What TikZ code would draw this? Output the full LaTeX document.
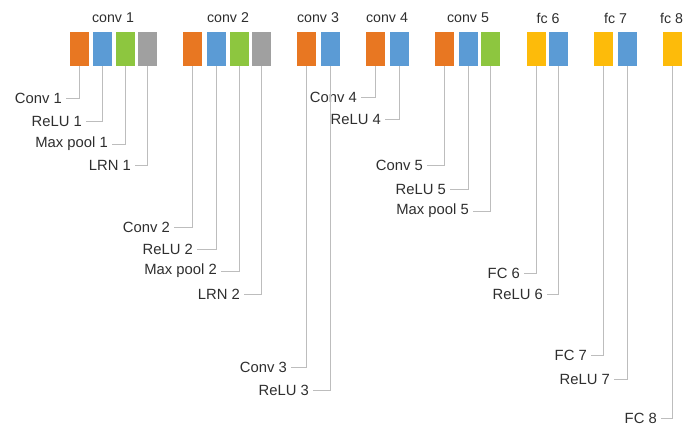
\documentclass[tikz,border=0pt]{standalone}
\usepackage{fontspec}
\setmainfont{Liberation Sans}
\definecolor{lorange}{HTML}{E87722}
\definecolor{lblue}{HTML}{5B9BD5}
\definecolor{lgreen}{HTML}{8DC63F}
\definecolor{lgray}{HTML}{A0A0A0}
\definecolor{lyellow}{HTML}{FDBB0A}
\definecolor{wire}{HTML}{BDBDBD}
\definecolor{ink}{HTML}{2E2E2E}
\begin{document}
\begin{tikzpicture}[x=1pt,y=-1pt,
  layer/.style={minimum width=19pt,minimum height=34pt,inner sep=0pt,draw=none},
  title/.style={font=\fontsize{14.2}{16}\selectfont,text=ink,inner sep=0pt},
  tag/.style={anchor=east,font=\fontsize{14.8}{17}\selectfont,text=ink,inner xsep=4pt,inner ysep=0pt},
  wire/.style={draw=wire,line width=0.9pt}]
\useasboundingbox (0,0) rectangle (687,430);

% layer blocks
\foreach \nm/\x/\c in {c1a/79.5/lorange,c1b/102.5/lblue,c1c/125.5/lgreen,c1d/147.5/lgray,
  c2a/192.5/lorange,c2b/216/lblue,c2c/239.5/lgreen,c2d/261.5/lgray,
  c3a/306.5/lorange,c3b/330/lblue,
  c4a/375/lorange,c4b/399/lblue,
  c5a/444.5/lorange,c5b/468/lblue,c5c/490.5/lgreen,
  f6a/536/lyellow,f6b/558.5/lblue,
  f7a/603.5/lyellow,f7b/627/lblue,
  f8a/672.5/lyellow}
  \node[layer,fill=\c] (\nm) at (\x,49) {};

% group titles
\node[title] (t1) at (113,18) {conv 1};
\node[title] (t2) at (228,18) {conv 2};
\node[title] (t3) at (318,18) {conv 3};
\node[title] (t4) at (387,18) {conv 4};
\node[title] (t5) at (468,18) {conv 5};
\node[title] (t6) at (548,18) {fc 6};
\node[title] (t7) at (615.5,18) {fc 7};
\node[title] (t8) at (671.5,18) {fc 8};

% operation labels
\node[tag] (l1a) at (62+4,98)  {Conv 1};
\node[tag] (l1b) at (82+4,121) {ReLU 1};
\node[tag] (l1c) at (108+4,144) {Max pool 1};
\node[tag] (l1d) at (131+4,165) {LRN 1};
\node[tag] (l2a) at (170+4,227) {Conv 2};
\node[tag] (l2b) at (193+4,249) {ReLU 2};
\node[tag] (l2c) at (217+4,271) {Max pool 2};
\node[tag] (l2d) at (240+4,294) {LRN 2};
\node[tag] (l3a) at (287+4,367) {Conv 3};
\node[tag] (l3b) at (309+4,390) {ReLU 3};
\node[tag] (l4a) at (357+4,97)  {Conv 4};
\node[tag] (l4b) at (381+4,119) {ReLU 4};
\node[tag] (l5a) at (423+4,165) {Conv 5};
\node[tag] (l5b) at (446+4,189) {ReLU 5};
\node[tag] (l5c) at (469+4,211) {Max pool 5};
\node[tag] (l6a) at (520+4,273) {FC 6};
\node[tag] (l6b) at (543+4,294) {ReLU 6};
\node[tag] (l7a) at (587+4,355) {FC 7};
\node[tag] (l7b) at (610+4,379) {ReLU 7};
\node[tag] (l8a) at (657+4,418) {FC 8};

% leader lines from each block to its label
\foreach \b/\l in {c1a/l1a,c1b/l1b,c1c/l1c,c1d/l1d,
  c2a/l2a,c2b/l2b,c2c/l2c,c2d/l2d,c3a/l3a,c3b/l3b,c4a/l4a,c4b/l4b,
  c5a/l5a,c5b/l5b,c5c/l5c,f6a/l6a,f6b/l6b,f7a/l7a,f7b/l7b,f8a/l8a}
  \draw[wire] (\b.south) |- (\l.east);
\end{tikzpicture}
\end{document}
